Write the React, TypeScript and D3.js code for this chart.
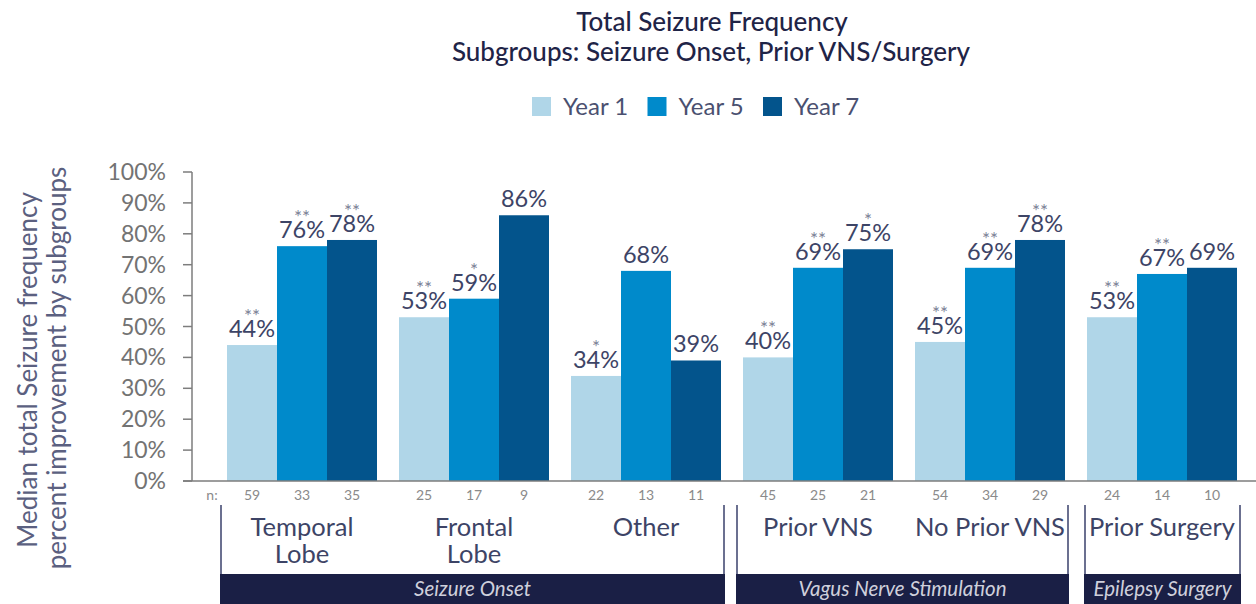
import React, { useEffect, useRef } from 'react';
import * as d3 from 'd3';

const categories = ['Temporal Lobe', 'Frontal Lobe', 'Other', 'Prior VNS', 'No Prior VNS', 'Prior Surgery'];
const categoryLines = [['Temporal', 'Lobe'], ['Frontal', 'Lobe'], ['Other'], ['Prior VNS'], ['No Prior VNS'], ['Prior Surgery']];
const seriesNames = ['Year 1', 'Year 5', 'Year 7'];

const year1 = [44, 53, 34, 40, 45, 53];
const year5 = [76, 59, 68, 69, 69, 67];
const year7 = [78, 86, 39, 75, 78, 69];

const year1Sig = ['**', '**', '*', '**', '**', '**'];
const year5Sig = ['**', '*', '', '**', '**', '**'];
const year7Sig = ['**', '', '', '*', '**', ''];

const year1N = [59, 25, 22, 45, 54, 24];
const year5N = [33, 17, 13, 25, 34, 14];
const year7N = [35, 9, 11, 21, 29, 10];

const sections = [
  { label: 'Seizure Onset', from: 'Temporal Lobe', to: 'Other' },
  { label: 'Vagus Nerve Stimulation', from: 'Prior VNS', to: 'No Prior VNS' },
  { label: 'Epilepsy Surgery', from: 'Prior Surgery', to: 'Prior Surgery' }
];

const yTicks = [0, 10, 20, 30, 40, 50, 60, 70, 80, 90, 100];

const colors = ['#b0d6e8', '#008acb', '#03548c'];
const FONT = 'Lato, "Open Sans", sans-serif';

export default function App() {
  const svgRef = useRef<SVGSVGElement>(null);
  const width = 1256;
  const height = 604;

  useEffect(() => {
    if (!svgRef.current) return;
    const svg = d3.select(svgRef.current);
    svg.selectAll('*').remove();

    const values = [year1, year5, year7];
    const sigs = [year1Sig, year5Sig, year7Sig];
    const ns = [year1N, year5N, year7N];

    const x0 = d3.scaleBand<string>()
      .domain(categories)
      .range([227, 1237])
      .paddingInner(22 / 172)
      .paddingOuter(0);
    const x1 = d3.scaleBand<string>()
      .domain(seriesNames)
      .range([0, x0.bandwidth()]);
    const y = d3.scaleLinear().domain([0, 100]).range([481, 172]);

    // title
    const title = svg.append('g')
      .attr('font-family', FONT)
      .attr('fill', '#1f2447')
      .attr('text-anchor', 'middle')
      .attr('font-size', 26)
      .attr('font-weight', 500);
    title.append('text').attr('x', 712).attr('y', 31).text('Total Seizure Frequency');
    title.append('text').attr('x', 711).attr('y', 61).text('Subgroups: Seizure Onset, Prior VNS/Surgery');

    // legend
    const legend = svg.append('g').attr('font-family', FONT);
    seriesNames.forEach((s, i) => {
      const lx = 532 + i * 115.5;
      legend.append('rect')
        .attr('x', lx).attr('y', 97).attr('width', 19).attr('height', 19)
        .attr('fill', colors[i]);
      legend.append('text')
        .attr('x', lx + 31).attr('y', 115)
        .attr('font-size', 24)
        .attr('fill', '#4a5070')
        .text(s);
    });

    // y label
    const yl = svg.append('g')
      .attr('font-family', FONT)
      .attr('font-size', 26)
      .attr('fill', '#5b6080')
      .attr('text-anchor', 'middle');
    yl.append('text').attr('transform', 'translate(37,370) rotate(-90)').text('Median total Seizure frequency');
    yl.append('text').attr('transform', 'translate(66,368) rotate(-90)').text('percent improvement by subgroups');

    // y axis
    const axis = svg.append('g');
    axis.append('line')
      .attr('x1', 192).attr('x2', 192).attr('y1', y(100)).attr('y2', y(0))
      .attr('stroke', '#7d7d7d').attr('stroke-width', 1.5);
    yTicks.forEach(t => {
      axis.append('line')
        .attr('x1', 183).attr('x2', 192).attr('y1', y(t)).attr('y2', y(t))
        .attr('stroke', '#7d7d7d').attr('stroke-width', 1.5);
      axis.append('text')
        .attr('x', 166).attr('y', y(t)).attr('dy', '0.35em')
        .attr('text-anchor', 'end')
        .attr('font-family', FONT)
        .attr('font-size', 23)
        .attr('fill', '#737373')
        .text(`${t}%`);
    });

    // bars
    const groups = svg.append('g');
    categories.forEach((c, ci) => {
      const g = groups.append('g').attr('transform', `translate(${x0(c)},0)`);
      seriesNames.forEach((s, si) => {
        const v = values[si][ci];
        const bx = x1(s)!;
        const cx = bx + x1.bandwidth() / 2;
        g.append('rect')
          .attr('x', bx).attr('y', y(v))
          .attr('width', x1.bandwidth()).attr('height', y(0) - y(v))
          .attr('fill', colors[si]);
        g.append('text')
          .attr('x', cx).attr('y', y(v) - 8)
          .attr('text-anchor', 'middle')
          .attr('font-family', FONT)
          .attr('font-size', 23.5)
          .attr('fill', '#3d4466')
          .text(`${v}%`);
        if (sigs[si][ci]) {
          g.append('text')
            .attr('x', cx).attr('y', y(v) - 22)
            .attr('text-anchor', 'middle')
            .attr('font-family', FONT)
            .attr('font-size', 19)
            .attr('fill', '#7a7f95')
            .text(sigs[si][ci]);
        }
        g.append('text')
          .attr('x', cx).attr('y', 500)
          .attr('text-anchor', 'middle')
          .attr('font-family', FONT)
          .attr('font-size', 14)
          .attr('fill', '#8a8a8a')
          .text(ns[si][ci]);
      });
      const lines = categoryLines[ci];
      lines.forEach((ln, li) => {
        g.append('text')
          .attr('x', x0.bandwidth() / 2).attr('y', 536 + li * 27)
          .attr('text-anchor', 'middle')
          .attr('font-family', FONT)
          .attr('font-size', 25.5)
          .attr('fill', '#3d4466')
          .text(ln);
      });
    });

    svg.append('text')
      .attr('x', 212).attr('y', 500)
      .attr('text-anchor', 'middle')
      .attr('font-family', FONT)
      .attr('font-size', 14)
      .attr('fill', '#8a8a8a')
      .text('n:');

    // baseline
    svg.append('line')
      .attr('x1', 183).attr('x2', width).attr('y1', y(0)).attr('y2', y(0))
      .attr('stroke', '#7d7d7d').attr('stroke-width', 1.5);

    // section brackets
    sections.forEach((sec, i) => {
      const left = x0(sec.from)! - (i === 2 ? 2 : 6);
      const right = x0(sec.to)! + x0.bandwidth() + 3;
      svg.append('path')
        .attr('d', `M${left},574V505M${right},574V505`)
        .attr('stroke', '#6b7090').attr('stroke-width', 2).attr('fill', 'none');
      svg.append('rect')
        .attr('x', left - 1).attr('y', 574)
        .attr('width', right - left + 2).attr('height', height - 574)
        .attr('fill', '#1a1f45');
      svg.append('text')
        .attr('x', (left + right) / 2).attr('y', 596)
        .attr('text-anchor', 'middle')
        .attr('font-family', FONT)
        .attr('font-style', 'italic')
        .attr('font-size', 20.5)
        .attr('fill', '#cfd0dc')
        .text(sec.label);
    });
  }, []);

  return (
    <svg
      ref={svgRef}
      width={width}
      height={height}
      style={{ position: 'absolute', left: 0, top: 0, background: '#fff' }}
    />
  );
}
